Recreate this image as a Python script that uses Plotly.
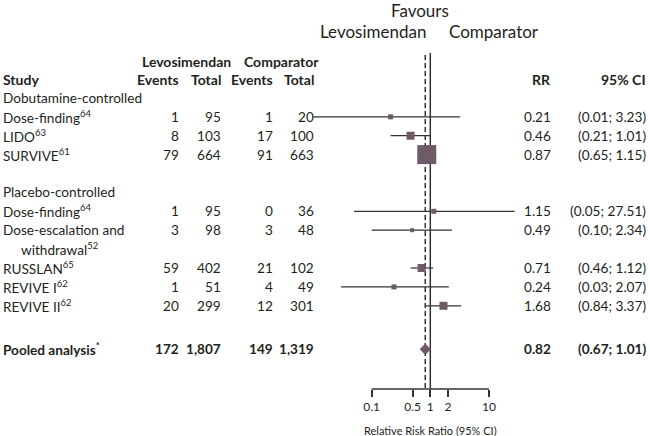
import math
import plotly.graph_objects as go

# ---------------- data ----------------
study_names = ["Dose-finding<sup>64</sup>", "LIDO<sup>63</sup>", "SURVIVE<sup>61</sup>",
               "Dose-finding<sup>64</sup>", "Dose-escalation and|withdrawal<sup>52</sup>",
               "RUSSLAN<sup>65</sup>", "REVIVE I<sup>62</sup>", "REVIVE II<sup>62</sup>"]
study_rows = [2, 3, 4, 7, 8, 10, 11, 12]
group_names = ["Dobutamine-controlled", "Placebo-controlled"]
group_rows = [1, 6]
lev_events = [1, 8, 79, 1, 3, 59, 1, 20]
lev_total = [95, 103, 664, 95, 98, 402, 51, 299]
comp_events = [1, 17, 91, 0, 3, 21, 4, 12]
comp_total = [20, 100, 663, 36, 48, 102, 49, 301]
rr = [0.21, 0.46, 0.87, 1.15, 0.49, 0.71, 0.24, 1.68]
ci_lo = [0.01, 0.21, 0.65, 0.05, 0.10, 0.46, 0.03, 0.84]
ci_hi = [3.23, 1.01, 1.15, 27.51, 2.34, 1.12, 2.07, 3.37]
marker_sizes = [5, 8, 19, 5, 4, 8, 5, 8]

pooled_label = "Pooled analysis<sup>*</sup>"
pooled_row = 14.3
pooled_lev_events, pooled_lev_total = 172, 1807
pooled_comp_events, pooled_comp_total = 149, 1319
pooled_rr, pooled_lo, pooled_hi = 0.82, 0.67, 1.01

tick_vals = [0.1, 0.5, 1, 2, 10]
tick_text = ["0.1", "0.5", "1", "2", "10"]

# ---------------- layout geometry ----------------
W, H = 650, 436
ROW0_PX, ROW_H = 79, 18.9          # pixel y of row 0 and row height
X1_PX, DEC_PX = 430.3, 58.6        # pixel x of RR=1, pixels per decade

def row_of_px(py):
    return (py - ROW0_PX) / ROW_H

def px(x):
    return x / W

FONT = "Lato, 'Open Sans', sans-serif"
TXT = "#231f20"
LINE = "#333333"
MARK = "#6f5b68"
BODY = 13.6
HEAD = 14
TOP = 17

axis_row = row_of_px(389)
top_row = row_of_px(53)

fig = go.Figure()

# vertical reference lines
fig.add_trace(go.Scatter(x=[1, 1], y=[top_row, axis_row], mode="lines",
                         line=dict(color=LINE, width=1.5), hoverinfo="skip"))
fig.add_trace(go.Scatter(x=[pooled_rr, pooled_rr], y=[row_of_px(55), axis_row], mode="lines",
                         line=dict(color=LINE, width=1.5, dash="5px,3px"), hoverinfo="skip"))
# axis line
fig.add_trace(go.Scatter(x=[tick_vals[0], tick_vals[-1]], y=[axis_row, axis_row], mode="lines",
                         line=dict(color=LINE, width=1.5), hoverinfo="skip"))

# CI lines
cx, cy = [], []
for lo, hi, r in zip(ci_lo, ci_hi, study_rows):
    cx += [lo, hi, None]
    cy += [r, r, None]
fig.add_trace(go.Scatter(x=cx, y=cy, mode="lines", line=dict(color=LINE, width=1.2),
                         hoverinfo="skip"))
# point estimates
fig.add_trace(go.Scatter(x=rr, y=study_rows, mode="markers",
                         marker=dict(symbol="square", size=marker_sizes, color=MARK,
                                     opacity=1, line=dict(width=0))))
# pooled diamond
fig.add_trace(go.Scatter(x=[pooled_lo, pooled_rr, pooled_hi, pooled_rr, pooled_lo],
                         y=[pooled_row, pooled_row - 0.27, pooled_row, pooled_row + 0.27, pooled_row],
                         mode="lines", fill="toself", fillcolor=MARK,
                         line=dict(color=MARK, width=1)))

ann = []

def txt(x_px, row, text, anchor="left", size=BODY, bold=False, color=TXT):
    if bold:
        text = "<b>" + text + "</b>"
    ann.append(dict(x=px(x_px), xref="paper", y=row, yref="y", text=text, showarrow=False,
                    xanchor=anchor, yanchor="middle", font=dict(family=FONT, size=size, color=color)))

# top headers
txt(420, row_of_px(10), "Favours", "center", TOP)
txt(373, row_of_px(31), "Levosimendan", "center", TOP)
txt(494, row_of_px(31), "Comparator", "center", TOP)

# table headers
COL = dict(le=181, lt=223, ce=275, ct=316, rr=553, ci=648)
txt(186, row_of_px(61), "Levosimendan", "center", HEAD, True)
txt(281, row_of_px(61), "Comparator", "center", HEAD, True)
txt(1, 0, "Study", "left", HEAD, True)
txt(COL["le"], 0, "Events", "right", HEAD, True)
txt(COL["lt"], 0, "Total", "right", HEAD, True)
txt(COL["ce"], 0, "Events", "right", HEAD, True)
txt(COL["ct"], 0, "Total", "right", HEAD, True)
txt(COL["rr"], 0, "RR", "right", HEAD, True)
txt(COL["ci"], 0, "95% CI", "right", HEAD, True)

for g, r in zip(group_names, group_rows):
    txt(1, r, g)

for i, r in enumerate(study_rows):
    parts = study_names[i].split("|")
    txt(1, r, parts[0])
    if len(parts) > 1:
        txt(19, r + 1, parts[1])
    txt(COL["le"], r, str(lev_events[i]), "right")
    txt(COL["lt"], r, str(lev_total[i]), "right")
    txt(COL["ce"], r, str(comp_events[i]), "right")
    txt(COL["ct"], r, str(comp_total[i]), "right")
    txt(COL["rr"], r, f"{rr[i]:.2f}", "right")
    txt(COL["ci"], r, f"({ci_lo[i]:.2f}; {ci_hi[i]:.2f})", "right")

txt(1, pooled_row, pooled_label, "left", BODY, True)
txt(COL["le"], pooled_row, f"{pooled_lev_events:,}", "right", BODY, True)
txt(COL["lt"], pooled_row, f"{pooled_lev_total:,}", "right", BODY, True)
txt(COL["ce"], pooled_row, f"{pooled_comp_events:,}", "right", BODY, True)
txt(COL["ct"], pooled_row, f"{pooled_comp_total:,}", "right", BODY, True)
txt(COL["rr"], pooled_row, f"{pooled_rr:.2f}", "right", BODY, True)
txt(COL["ci"], pooled_row, f"({pooled_lo:.2f}; {pooled_hi:.2f})", "right", BODY, True)

# axis title
txt(430, row_of_px(430), "Relative Risk Ratio (95% CI)", "center", 11)

x_range = [(0 - X1_PX) / DEC_PX, (W - X1_PX) / DEC_PX]
y_range = [row_of_px(H), row_of_px(0)]

fig.update_layout(
    width=W, height=H, margin=dict(l=0, r=0, t=0, b=0),
    paper_bgcolor="white", plot_bgcolor="white", showlegend=False,
    annotations=ann,
    xaxis=dict(type="log", range=x_range, domain=[0, 1], anchor="free", position=(H - 389) / H,
               showgrid=False, zeroline=False, showline=False, fixedrange=True,
               tickmode="array", tickvals=tick_vals, ticktext=tick_text,
               ticks="outside", ticklen=7, tickwidth=1.5, tickcolor=LINE,
               tickfont=dict(family=FONT, size=12, color=TXT)),
    yaxis=dict(range=y_range, domain=[0, 1], showgrid=False, zeroline=False, fixedrange=True,
               showticklabels=False, showline=False),
)

fig.write_html("out.html", config={"displayModeBar": False},
               post_script="document.body.style.margin='0';document.body.style.padding='0';")
